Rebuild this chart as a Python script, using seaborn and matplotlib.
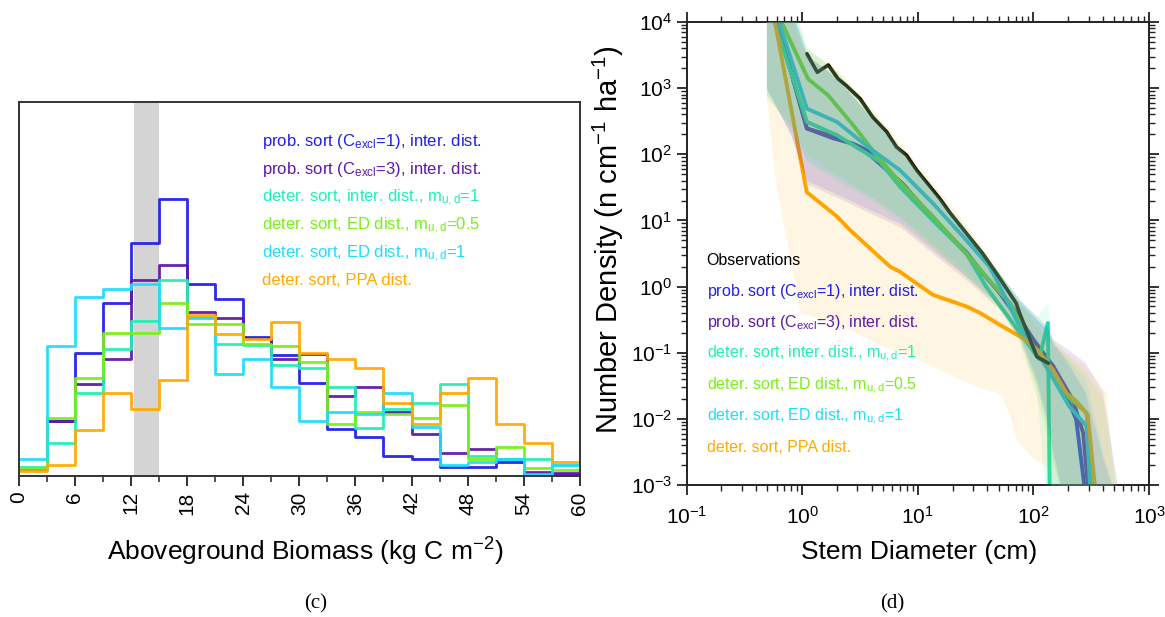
import numpy as np
import pandas as pd
import matplotlib
matplotlib.use("Agg")
import matplotlib.pyplot as plt
from matplotlib.ticker import FixedLocator, LogLocator, NullFormatter, NullLocator
import seaborn as sns

sns.set_theme(style="ticks", rc={"text.color": "black", "axes.labelcolor": "black",
                                 "xtick.color": "black", "ytick.color": "black"})
plt.rcParams['font.family'] = ['Liberation Sans', 'DejaVu Sans']
plt.rcParams['mathtext.fontset'] = 'custom'
plt.rcParams['mathtext.rm'] = 'Liberation Sans'
plt.rcParams['mathtext.it'] = 'Liberation Sans:italic'
plt.rcParams['mathtext.bf'] = 'Liberation Sans:bold'
plt.rcParams['axes.unicode_minus'] = False

# ---------------- data ----------------
series_labels = [
    "prob. sort (C$_{\\mathrm{excl}}$=1), inter. dist.",
    "prob. sort (C$_{\\mathrm{excl}}$=3), inter. dist.",
    "deter. sort, inter. dist., m$_{\\mathrm{u,d}}$=1",
    "deter. sort, ED dist., m$_{\\mathrm{u,d}}$=0.5",
    "deter. sort, ED dist., m$_{\\mathrm{u,d}}$=1",
    "deter. sort, PPA dist.",
]
series_colors = ["#1f1fe8", "#6018a8", "#1ef0b4", "#78f014", "#1edcff", "#ffaa00"]
obs_label = "Observations"

# (c) histogram of aboveground biomass, bins of 3 kg C m-2 from 0 to 60 (relative frequency, arbitrary units)
bin_edges = list(range(0, 61, 3))
hist_blue   = [7.7, 55, 123.3, 173.3, 233.3, 276.7, 192.3, 177.3, 139.3, 120.7, 92.7, 46.7, 39, 20, 17.3, 9, 9, 14, 1.7, 1.7]
hist_purple = [7.0, 55, 92.3, 117.3, 195.7, 211, 164.3, 158.3, 138.3, 117.3, 122.3, 80, 89.3, 64.3, 42.3, 23.3, 27.3, 17.3, 4, 3]
hist_aqua   = [9, 33, 83.3, 126.7, 154.7, 195.7, 159, 132.3, 131, 111.3, 108.3, 89, 48.3, 66.7, 73.3, 92.3, 20, 17.3, 17.3, 11]
hist_green  = [8.3, 58.3, 98.3, 142.7, 142.7, 173.3, 151.7, 151.7, 131.7, 130, 114, 51.7, 64.3, 61.7, 57.7, 70.7, 17, 29.3, 8.3, 6]
hist_cyan   = [17.3, 130, 179.3, 186.7, 191.7, 148.3, 157.7, 101.7, 116.7, 89, 55, 64.3, 61.7, 83, 49, 11, 14, 17.3, 1.7, 11]
hist_orange = [5, 11, 45.7, 83.3, 67.3, 95.7, 160.7, 142.3, 137, 154.3, 123.3, 117.3, 107.7, 73.3, 51.7, 83, 98.3, 51.7, 33.3, 14]
obs_biomass_range = (12.3, 15.0)

# (d) size distributions: log10(stem diameter, cm) and log10(number density)
obs_logD = [0.04, 0.13, 0.225, 0.31, 0.38, 0.50, 0.61, 0.73, 0.815, 0.90, 0.99, 1.19, 1.28, 1.56, 1.68, 1.85, 1.88, 2.03, 2.13]
obs_logN = [3.52, 3.24, 3.35, 3.14, 3.04, 2.84, 2.56, 2.34, 2.11, 1.99, 1.76, 1.33, 1.11, 0.50, 0.20, -0.25, -0.40, -1.06, -1.16]

blue_logD = [-0.22, 0.04, 0.27, 0.44, 0.56, 0.67, 0.87, 1.13, 1.42, 1.56, 1.795, 2.0, 2.17, 2.31, 2.37, 2.44]
blue_logN = [4.0, 2.39, 2.24, 2.16, 2.06, 1.86, 1.55, 1.02, 0.52, 0.20, -0.25, -0.80, -1.21, -1.76, -2.01, -3.0]
purple_logD = [-0.22, 0.04, 0.27, 0.50, 0.67, 0.87, 1.13, 1.42, 1.71, 2.0, 2.17, 2.34, 2.43, 2.47]
purple_logN = [4.0, 2.39, 2.27, 2.11, 1.86, 1.55, 1.03, 0.50, -0.10, -0.82, -1.20, -1.71, -2.21, -3.0]
aqua_logD = [-0.24, 0.04, 0.30, 0.67, 0.845, 1.13, 1.42, 1.59, 1.82, 2.05, 2.125, 2.14]
aqua_logN = [4.0, 2.49, 2.29, 1.89, 1.51, 1.0, 0.50, 0.0, -0.55, -1.1, -0.55, -3.0]
green_logD = [-0.18, 0.05, 0.225, 0.44, 0.64, 0.845, 1.13, 1.42, 1.59, 1.795, 2.0, 2.17, 2.31, 2.46, 2.515]
green_logN = [4.0, 3.14, 2.89, 2.44, 1.99, 1.58, 1.06, 0.50, 0.15, -0.25, -0.9, -1.31, -1.68, -1.91, -3.0]
cyan_logD = [-0.20, 0.04, 0.30, 0.585, 0.845, 1.13, 1.42, 1.62, 1.71, 1.88, 2.11, 2.31, 2.46, 2.49]
cyan_logN = [4.0, 2.69, 2.49, 2.09, 1.76, 1.26, 0.70, 0.30, 0.0, -0.6, -1.21, -1.81, -2.11, -3.0]
orange_logD = [-0.236, 0.038, 0.30, 0.41, 0.585, 0.76, 0.84, 1.13, 1.42, 1.54, 1.71, 1.91, 2.03, 2.17, 2.285, 2.37, 2.47, 2.53]
orange_logN = [4.0, 1.43, 1.06, 0.86, 0.58, 0.30, 0.23, -0.125, -0.30, -0.40, -0.58, -0.78, -0.95, -1.26, -1.61, -1.73, -1.94, -3.0]

# ensemble ranges (log10 number density) on a common diameter grid
band_logD = [-0.31, -0.1, 0.04, 0.3, 0.6, 0.85, 1.13, 1.42, 1.71, 1.88, 2.03, 2.12, 2.17, 2.3, 2.45, 2.6, 2.77]
blue_low    = [3.0, 2.3, 1.6, 1.4, 1.15, 0.95, 0.55, 0.15, -0.3, -0.75, -1.4, -2.0, -2.5, -3.5, -3.5, -3.5, -3.5]
blue_high   = [5.0, 4.2, 3.5, 3.15, 2.55, 2.05, 1.4, 0.82, 0.15, -0.25, -0.5, -0.65, -0.85, -1.15, -1.6, -2.6, -3.5]
purple_low  = [3.0, 2.3, 1.55, 1.35, 1.1, 0.9, 0.5, 0.1, -0.35, -0.8, -1.5, -2.1, -2.6, -3.5, -3.5, -3.5, -3.5]
purple_high = [5.0, 4.2, 3.5, 3.15, 2.55, 2.05, 1.4, 0.82, 0.18, -0.2, -0.45, -0.6, -0.8, -0.95, -1.15, -1.6, -3.5]
aqua_low    = [2.9, 2.4, 1.9, 1.6, 1.3, 1.0, 0.6, 0.15, -0.3, -0.8, -1.6, -3.5, -3.5, -3.5, -3.5, -3.5, -3.5]
aqua_high   = [5.0, 4.3, 3.5, 3.15, 2.55, 2.05, 1.45, 0.85, 0.18, -0.2, -0.45, -0.25, -0.9, -1.2, -1.6, -3.5, -3.5]
green_low   = [2.85, 2.45, 2.0, 1.7, 1.35, 1.05, 0.6, 0.15, -0.35, -0.85, -1.7, -2.3, -2.7, -3.5, -3.5, -3.5, -3.5]
green_high  = [5.0, 4.4, 3.6, 3.25, 2.65, 2.1, 1.45, 0.85, 0.2, -0.2, -0.5, -0.65, -0.8, -1.05, -1.3, -1.7, -3.5]
cyan_low    = [2.9, 2.4, 1.9, 1.65, 1.35, 1.05, 0.65, 0.2, -0.25, -0.7, -1.5, -2.2, -3.5, -3.5, -3.5, -3.5, -3.5]
cyan_high   = [5.0, 4.3, 3.6, 3.25, 2.65, 2.1, 1.5, 0.88, 0.2, -0.2, -0.5, -0.65, -0.85, -1.1, -1.4, -2.5, -3.5]
orange_band_logD = [-0.31, -0.236, -0.02, 0.3, 0.67, 1.0, 1.3, 1.54, 1.71, 1.80, 1.85, 2.0, 2.11, 2.2, 2.45, 2.63, 2.72]
orange_low  = [2.87, 1.61, -0.4, -0.55, -0.88, -1.1, -1.35, -1.53, -1.61, -1.96, -2.31, -2.61, -2.71, -3.5, -3.5, -3.5, -3.5]
orange_high = [5.0, 5.0, 3.65, 3.3, 2.55, 1.85, 1.2, 0.65, 0.2, -0.05, -0.15, -0.55, -0.75, -0.9, -1.2, -1.6, -3.5]

# ---------------- figure ----------------
W, H = 1165, 617
fig = plt.figure(figsize=(W / 100, H / 100), dpi=100)
fig.patch.set_facecolor("white")

def frame(x0, y0, x1, y1):
    return [x0 / W, 1 - y1 / H, (x1 - x0) / W, (y1 - y0) / H]

ax1 = fig.add_axes(frame(18.5, 102, 580, 476))
ax2 = fig.add_axes(frame(686.7, 22, 1149, 485))

# ----- panel (c) -----
edges = np.array(bin_edges, dtype=float)
centers = (edges[:-1] + edges[1:]) / 2
ax1.axvspan(*obs_biomass_range, color="#d4d4d4", lw=0, zorder=0)
hists = [hist_blue, hist_purple, hist_aqua, hist_green, hist_cyan, hist_orange]
for vals, col in zip(hists, series_colors):
    dfh = pd.DataFrame({"biomass": centers, "freq": np.asarray(vals, dtype=float)})
    sns.histplot(data=dfh, x="biomass", weights="freq", bins=bin_edges, element="step",
                 fill=False, color=col, linewidth=2.0, alpha=0.95, ax=ax1)
ax1.set_xlim(0, 60)
ax1.set_ylim(0, 374)
ax1.set_ylabel("")
ax1.set_xlabel("")
ax1.yaxis.set_major_locator(NullLocator())
ax1.xaxis.set_major_locator(FixedLocator(np.arange(0, 61, 6)))
ax1.xaxis.set_minor_locator(FixedLocator(np.arange(3, 60, 6)))
ax1.tick_params(axis="x", which="major", direction="out", length=7, width=1.3,
                labelsize=15, labelrotation=90, pad=4, color="#222222")
ax1.tick_params(axis="x", which="minor", direction="out", length=4, width=1.1, color="#222222")
for s in ax1.spines.values():
    s.set_visible(True)
    s.set_color("#333333")
    s.set_linewidth(1.4)

leg_y_c = [139.3, 167.3, 195.0, 222.7, 250.3, 279.0]
for lab, col, yp in zip(series_labels, series_colors, leg_y_c):
    ax1.text((261.7 - 18.5) / 561.5, (476 - yp) / 374, lab, color=col, fontsize=12,
             transform=ax1.transAxes, va="center_baseline", ha="left")

fig.text(305 / W, 1 - 552 / H, "Aboveground Biomass (kg C m$^{-2}$)", ha="center",
         va="center", fontsize=19)
fig.text(316 / W, 1 - 604 / H, "(c)", ha="center", va="center", fontsize=15,
         family="Liberation Serif")

# ----- panel (d) -----
ax2.set_xscale("log")
ax2.set_yscale("log")

line_sets = [
    (blue_logD, blue_logN), (purple_logD, purple_logN), (aqua_logD, aqua_logN),
    (green_logD, green_logN), (cyan_logD, cyan_logN), (orange_logD, orange_logN),
]
line_colors = ["#2030e0", "#5a22b0", "#18e0a8", "#66dd22", "#18c8e8", "#ffa500"]
for (ld, ln), lc in zip(line_sets, line_colors):
    df = pd.DataFrame({"D": 10 ** np.array(ld), "N": 10 ** np.array(ln)})
    sns.lineplot(data=df, x="D", y="N", sort=False, estimator=None, color=lc,
                 linewidth=2.8, ax=ax2, zorder=2)
df_obs = pd.DataFrame({"D": 10 ** np.array(obs_logD), "N": 10 ** np.array(obs_logN)})
sns.lineplot(data=df_obs, x="D", y="N", sort=False, estimator=None, color="black",
             linewidth=2.6, ax=ax2, zorder=2.2)

bands = [(blue_low, blue_high, series_colors[0]), (purple_low, purple_high, series_colors[1]),
         (aqua_low, aqua_high, series_colors[2]), (green_low, green_high, series_colors[3]),
         (cyan_low, cyan_high, series_colors[4])]
gx = 10 ** np.array(band_logD)
for lo, hi, col in bands:
    ax2.fill_between(gx, 10 ** np.array(lo), 10 ** np.array(hi), color=col, alpha=0.11,
                     lw=0, zorder=3)
ax2.fill_between(10 ** np.array(orange_band_logD), 10 ** np.array(orange_low),
                 10 ** np.array(orange_high), color=series_colors[5], alpha=0.11, lw=0, zorder=3)

ax2.set_xlim(0.1, 1000)
ax2.set_ylim(1e-3, 1e4)
ax2.set_xlabel("")
ax2.set_ylabel("")
ax2.xaxis.set_major_locator(LogLocator(base=10, numticks=10))
ax2.yaxis.set_major_locator(LogLocator(base=10, numticks=10))
ax2.xaxis.set_minor_locator(LogLocator(base=10, subs=np.arange(2, 10), numticks=20))
ax2.yaxis.set_minor_locator(LogLocator(base=10, subs=np.arange(2, 10), numticks=20))
ax2.xaxis.set_minor_formatter(NullFormatter())
ax2.yaxis.set_minor_formatter(NullFormatter())
ax2.tick_params(which="major", direction="out", length=7, width=1.3, labelsize=15,
                top=True, right=True, bottom=True, left=True, color="#222222")
ax2.tick_params(which="minor", direction="out", length=4, width=1.0,
                top=True, right=True, bottom=True, left=True, color="#222222")
ax2.tick_params(axis="x", pad=8)
for s in ax2.spines.values():
    s.set_visible(True)
    s.set_color("#222222")
    s.set_linewidth(1.4)

leg_y_d = [259.0, 289.3, 320.0, 351.0, 382.3, 413.3, 446.0]
for lab, col, yp in zip([obs_label] + series_labels, ["black"] + series_colors, leg_y_d):
    ax2.text((706.7 - 686.7) / 462.3, (485 - yp) / 463, lab, color=col, fontsize=11.5,
             transform=ax2.transAxes, va="center_baseline", ha="left", zorder=5)

fig.text(919 / W, 1 - 552 / H, "Stem Diameter (cm)", ha="center", va="center", fontsize=19)
fig.text(608 / W, 1 - 240 / H, "Number Density (n cm$^{-1}$ ha$^{-1}$)", ha="center",
         va="center", rotation=90, fontsize=21)
fig.text(892 / W, 1 - 604 / H, "(d)", ha="center", va="center", fontsize=15,
         family="Liberation Serif")

fig.savefig("out.png", dpi=100, facecolor="white")
